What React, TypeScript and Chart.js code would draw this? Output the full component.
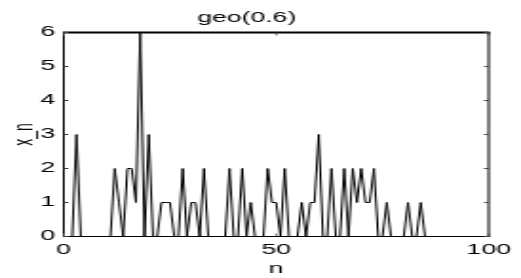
import React, { useEffect, useRef } from "react";
import { Chart, registerables } from "chart.js";

Chart.register(...registerables);

const TITLE = "geo(0.6)";
const X_LABEL = "n";
const Y_LABEL = "x_n";
const FIRST_N = 1;
// x_n values for n = 1..100
const xValues = [
  0, 0, 3, 0, 0, 0, 0, 0, 0, 0,
  0, 2, 1, 0, 2, 2, 1, 6, 0, 3,
  0, 0, 1, 1, 1, 0, 0, 2, 0, 1,
  1, 0, 2, 0, 0, 0, 0, 0, 2, 0,
  0, 2, 0, 1, 0, 0, 0, 2, 1, 1,
  0, 2, 0, 0, 0, 1, 0, 1, 1, 3,
  0, 0, 2, 0, 0, 2, 0, 2, 1, 2,
  1, 1, 2, 0, 0, 1, 0, 0, 0, 0,
  1, 0, 0, 1, 0, 0, 0, 0, 0, 0,
  0, 0, 0, 0, 0, 0, 0, 0, 0, 0,
];
const xTicks = [0, 50, 100];
const yTicks = [0, 1, 2, 3, 4, 5, 6];

const FONT = "'Liberation Sans', Arial, Helvetica, sans-serif";

const boxPlugin = {
  id: "matlabBox",
  afterDraw(chart: any) {
    const { ctx, chartArea } = chart;
    const { left, right, top, bottom } = chartArea;
    const xs = chart.scales.x;
    const ys = chart.scales.y;
    ctx.save();
    ctx.fillStyle = "#000";
    ctx.fillRect(left - 0.5, top - 1, right - left + 1, 2);
    ctx.fillRect(left - 0.5, bottom - 0.5, right - left + 1, 1);
    ctx.fillRect(left - 0.5, top - 0.5, 1, bottom - top + 1);
    ctx.fillRect(right - 0.5, top - 0.5, 1, bottom - top + 1);
    ctx.fillStyle = "#444";
    for (const v of yTicks) {
      const py = ys.getPixelForValue(v);
      ctx.fillRect(left, py - 0.5, 2.5, 1);
      ctx.fillRect(right - 2.5, py - 0.5, 2.5, 1);
    }
    for (const v of xTicks) {
      const px = xs.getPixelForValue(v);
      ctx.fillRect(px - 0.4, top, 0.8, 3);
      ctx.fillRect(px - 0.4, bottom - 3, 0.8, 3);
    }
    ctx.restore();
  },
};

export default function App() {
  const ref = useRef<HTMLCanvasElement>(null);
  useEffect(() => {
    if (!ref.current) return;
    const points = xValues.map((v, i) => ({ x: FIRST_N + i, y: v }));
    const chart = new Chart(ref.current, {
      type: "line",
      data: {
        datasets: [
          {
            data: points,
            borderColor: "#000",
            borderWidth: 1,
            pointRadius: 0,
            tension: 0,
            fill: false,
          },
        ],
      },
      options: {
        animation: false,
        responsive: false,
        devicePixelRatio: 1,
        layout: { padding: { left: 0, right: 14.5, top: 0, bottom: 0 } },
        plugins: {
          legend: { display: false },
          tooltip: { enabled: false },
          title: {
            display: true,
            text: TITLE,
            color: "#000",
            font: { family: FONT, size: 14, weight: "normal" },
            padding: { top: 9.75, bottom: 5.95 },
          },
        },
        scales: {
          x: {
            type: "linear",
            min: 0,
            max: 100,
            grid: { display: false, drawTicks: false },
            border: { display: false },
            afterFit: (s: any) => {
              s.height = 41.5;
            },
            afterBuildTicks: (s: any) => {
              s.ticks = xTicks.map((v) => ({ value: v }));
            },
            ticks: {
              color: "#000",
              padding: 5.3,
              maxRotation: 0,
              font: { family: FONT, size: 14 },
            },
            title: {
              display: true,
              text: X_LABEL,
              color: "#000",
              font: { family: FONT, size: 14 },
              padding: { top: 0, bottom: 0.5 },
            },
          },
          y: {
            min: 0,
            max: 6,
            grid: { display: false, drawTicks: false },
            border: { display: false },
            afterFit: (s: any) => {
              s.width = 33.5;
            },
            afterBuildTicks: (s: any) => {
              s.ticks = yTicks.map((v) => ({ value: v }));
            },
            ticks: {
              color: "#000",
              padding: 4.5,
              font: { family: FONT, size: 14 },
            },
            title: {
              display: true,
              text: Y_LABEL,
              color: "#000",
              font: { family: FONT, size: 14 },
              padding: { top: 4.8, bottom: 0 },
            },
          },
        },
      },
      plugins: [boxPlugin],
    });
    return () => chart.destroy();
  }, []);
  return (
    <div
      style={{
        position: "fixed",
        left: 0,
        top: 0,
        width: 521,
        height: 278,
        overflow: "hidden",
        background: "#fff",
      }}
    >
      <canvas
        ref={ref}
        width={274}
        height={278}
        style={{ width: "521px", height: "278px", display: "block" }}
      />
    </div>
  );
}
